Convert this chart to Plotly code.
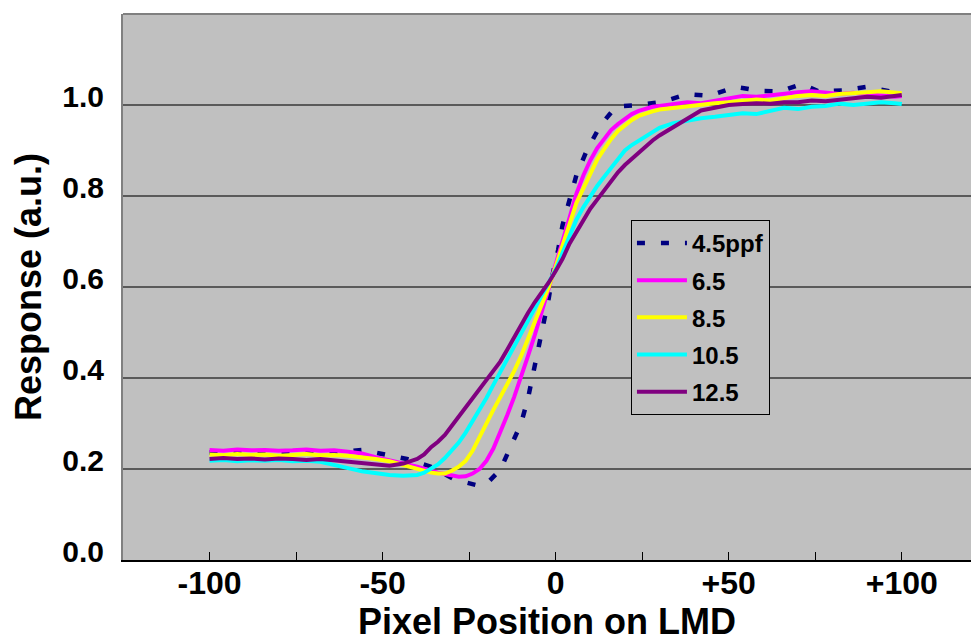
import plotly.graph_objects as go

# ---------------- data ----------------
x_solid = [-100, -96, -92, -88, -84, -80, -76, -72, -68, -64, -60, -56, -52, -48, -44,
           -40, -38, -36, -34, -32, -30, -28, -26, -24, -22, -20, -18, -16, -14, -12,
           -10, -8, -6, -4, -2, 0, 2, 4, 6, 8, 10, 12, 14, 16, 18, 20, 22, 24, 26, 28, 30,
           34, 38, 42, 46, 50, 54, 58, 62, 66, 70, 74, 78, 82, 86, 90, 94, 98, 100]

y_65 = [0.242, 0.240, 0.243, 0.241, 0.242, 0.240, 0.241, 0.243, 0.240, 0.241, 0.238, 0.234, 0.226, 0.220, 0.212,
        0.205, 0.200, 0.196, 0.192, 0.189, 0.185, 0.183, 0.184, 0.190, 0.200, 0.218, 0.245, 0.280, 0.318, 0.358,
        0.400, 0.448, 0.495, 0.543, 0.597, 0.650, 0.705, 0.752, 0.805, 0.845, 0.878, 0.905, 0.925, 0.945, 0.958,
        0.970, 0.980, 0.987, 0.992, 0.996, 0.998,
        1.003, 1.006, 1.004, 1.010, 1.014, 1.020, 1.018, 1.022, 1.025, 1.028, 1.030, 1.026, 1.024, 1.027, 1.024,
        1.021, 1.018, 1.020]

y_85 = [0.232, 0.230, 0.233, 0.231, 0.232, 0.229, 0.231, 0.233, 0.230, 0.231, 0.229, 0.226, 0.222, 0.217, 0.208,
        0.200, 0.196, 0.192, 0.190, 0.190, 0.196, 0.205, 0.218, 0.240, 0.270, 0.302, 0.330, 0.358, 0.385, 0.415,
        0.448, 0.485, 0.525, 0.562, 0.600, 0.645, 0.695, 0.738, 0.785, 0.818, 0.852, 0.880, 0.903, 0.925, 0.943,
        0.955, 0.967, 0.976, 0.982, 0.986, 0.990,
        0.994, 0.998, 1.000, 1.004, 1.006, 1.010, 1.012, 1.010, 1.016, 1.020, 1.022, 1.020, 1.024, 1.027, 1.028,
        1.030, 1.027, 1.026]

y_105 = [0.218, 0.220, 0.217, 0.219, 0.218, 0.220, 0.217, 0.218, 0.216, 0.210, 0.202, 0.195, 0.190, 0.187, 0.185,
         0.187, 0.192, 0.200, 0.210, 0.224, 0.240, 0.258, 0.280, 0.305, 0.330, 0.356, 0.385, 0.413, 0.440, 0.468,
         0.496, 0.525, 0.553, 0.580, 0.607, 0.638, 0.675, 0.712, 0.748, 0.775, 0.800, 0.822, 0.842, 0.862, 0.882,
         0.900, 0.912, 0.922, 0.932, 0.942, 0.950,
         0.960, 0.966, 0.971, 0.974, 0.978, 0.982, 0.980, 0.986, 0.994, 0.991, 0.996, 0.998, 1.003, 1.000, 1.004,
         1.006, 1.004, 1.002]

y_125 = [0.222, 0.224, 0.222, 0.223, 0.221, 0.223, 0.222, 0.220, 0.222, 0.219, 0.216, 0.212, 0.209, 0.207, 0.212,
         0.222, 0.232, 0.248, 0.260, 0.275, 0.295, 0.315, 0.335, 0.354, 0.373, 0.393, 0.413, 0.436, 0.462, 0.490,
         0.517, 0.543, 0.567, 0.588, 0.610, 0.635, 0.662, 0.695, 0.720, 0.748, 0.772, 0.792, 0.812, 0.835, 0.852,
         0.868, 0.882, 0.896, 0.910, 0.922, 0.933,
         0.952, 0.970, 0.988, 0.994, 1.000, 1.002, 1.004, 1.003, 1.006, 1.006, 1.010, 1.008, 1.012, 1.016, 1.018,
         1.016, 1.020, 1.022]

x_45 = [-100, -90, -80, -70, -62, -56, -50, -43, -36, -29, -22, -19, -16, -13, -10, -8, -6.4, -5, -3.5, -2,
        -0.8, 0.7, 2, 4, 6, 9, 13, 17.5, 24, 31, 38, 44.5, 52, 59, 65, 71, 76, 83, 90, 96.5, 100]
y_45 = [0.236, 0.237, 0.236, 0.237, 0.238, 0.242, 0.232, 0.222, 0.205, 0.176, 0.163, 0.175, 0.198, 0.249, 0.300,
        0.355, 0.410, 0.465, 0.520, 0.575, 0.630, 0.681, 0.736, 0.791, 0.846, 0.900, 0.956, 0.997, 1.000, 1.007,
        1.024, 1.020, 1.040, 1.031, 1.030, 1.046, 1.030, 1.032, 1.040, 1.030, 1.032]

series_names = ["4.5ppf", "6.5", "8.5", "10.5", "12.5"]
series_colors = ["#000080", "#FF00FF", "#FFFF00", "#00FFFF", "#800080"]

x_tick_vals = [-100, -50, 0, 50, 100]
x_tick_text = ["-100", "-50", "0", "+50", "+100"]
x_minor_vals = [-125, -75, -25, 25, 75]
y_tick_vals = [0.0, 0.2, 0.4, 0.6, 0.8, 1.0]
y_tick_text = ["0.0", "0.2", "0.4", "0.6", "0.8", "1.0"]

# ---------------- figure ----------------
fig = go.Figure()
xs = [x_45, x_solid, x_solid, x_solid, x_solid]
ys = [y_45, y_65, y_85, y_105, y_125]
for i, (name, col) in enumerate(zip(series_names, series_colors)):
    fig.add_trace(go.Scatter(
        x=xs[i], y=ys[i], name=name, mode="lines",
        legendgroup=name,
        line=dict(color=col, width=4 if i else 4.5,
                  dash="8px,16px" if i == 0 else "solid"),
    ))

BOLD = dict(family="Arial, Liberation Sans", weight="bold", color="black")

fig.update_layout(
    width=971, height=643,
    margin=dict(l=123, r=0, t=14, b=83),
    paper_bgcolor="white",
    plot_bgcolor="#C0C0C0",
    showlegend=True,
    legend=dict(
        x=0.599, y=0.623, xanchor="left", yanchor="top",
        bgcolor="#C0C0C0", bordercolor="black", borderwidth=1,
        font=dict(size=24, **BOLD),
        tracegroupgap=3,
        itemwidth=50,
    ),
    xaxis=dict(
        range=[-125, 120],
        tickvals=x_tick_vals, ticktext=x_tick_text,
        ticks="inside", ticklen=8, tickcolor="black", tickwidth=1,
        minor=dict(tickvals=x_minor_vals, ticks="inside", ticklen=8,
                   tickcolor="black", tickwidth=1, showgrid=False),
        showgrid=False, zeroline=False,
        showline=True, linecolor="black", linewidth=2,
        tickfont=dict(size=32, **BOLD),
        ticklabelstandoff=-6,
        title=dict(text="Pixel Position on LMD", font=dict(size=36, **BOLD), standoff=0),
        automargin=False,
    ),
    yaxis=dict(
        range=[0, 1.2],
        tickvals=y_tick_vals, ticktext=y_tick_text,
        ticks="",
        showgrid=True, gridcolor="#5a5a5a", gridwidth=2,
        zeroline=False,
        showline=True, linecolor="#808080", linewidth=2,
        tickfont=dict(size=30, **BOLD),
        ticklabelstandoff=11,
        ticklabelshift=-9,
        title=dict(text="Response (a.u.)", font=dict(size=36, **BOLD), standoff=10),
        automargin=False,
    ),
    shapes=[dict(type="line", xref="paper", yref="paper", x0=0, x1=1, y0=1, y1=1,
                 line=dict(color="#808080", width=2))],
)

fig.write_html("out.html")
